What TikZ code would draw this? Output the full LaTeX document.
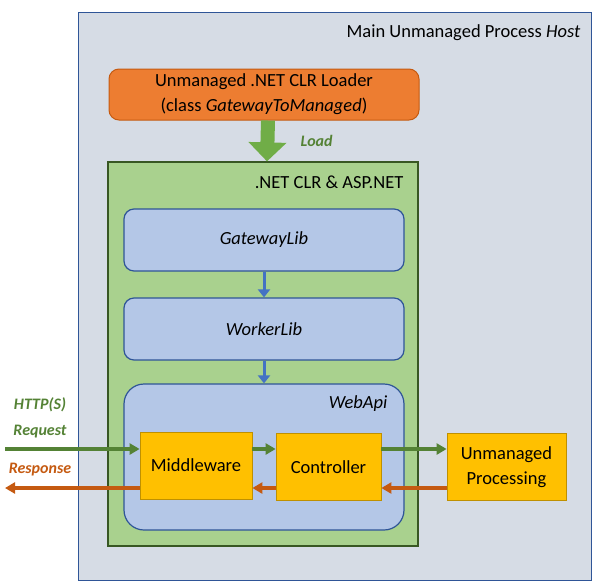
\documentclass[tikz,border=0pt]{standalone}
\usepackage{fontspec}
\setmainfont{Carlito}
\usepackage{xcolor}
\usepackage{tikz}
\usetikzlibrary{positioning,shapes,arrows.meta,calc}

\definecolor{hostfill}{HTML}{D6DCE5}
\definecolor{hostline}{HTML}{2F5597}
\definecolor{loaderfill}{HTML}{ED7D31}
\definecolor{loaderline}{HTML}{C55A11}
\definecolor{clrfill}{HTML}{A9D18E}
\definecolor{clrline}{HTML}{385723}
\definecolor{libfill}{HTML}{B4C7E7}
\definecolor{libline}{HTML}{2F5597}
\definecolor{procfill}{HTML}{FFC000}
\definecolor{procline}{HTML}{BF9000}
\definecolor{reqgreen}{HTML}{548235}
\definecolor{resorange}{HTML}{C55A11}
\definecolor{loadgreen}{HTML}{70AD47}
\definecolor{libblue}{HTML}{4472C4}

\tikzset{
    libbox/.style={draw=libline, line width=1.2pt, fill=libfill, rounded corners=10pt,
        minimum width=280pt, minimum height=62pt},
    procbox/.style={draw=procline, line width=0.8pt, fill=procfill, align=center,
        minimum height=67pt},
    boxtitle/.style={inner sep=0pt, anchor=east},
    sidelabel/.style={inner sep=0pt, font=\fontsize{16}{19}\selectfont\bfseries\itshape},
    reqarrow/.style={draw=reqgreen, line width=3.5pt, -{Triangle[length=10pt,width=11pt]}},
    resarrow/.style={draw=resorange, line width=3.5pt, -{Triangle[length=10pt,width=11pt]}},
    libarrow/.style={draw=libblue, line width=3pt, -{Triangle[length=8pt,width=12pt]}},
    loadarrow/.style={draw=loadgreen, line width=14pt, -{Triangle[length=19pt,width=37pt]}}
}

\begin{document}
\begin{tikzpicture}[x=1pt, y=-1pt, font=\fontsize{18.5}{25}\selectfont]
    \useasboundingbox (0,0) rectangle (598,587);

    % outer process
    \node[draw=hostline, line width=1pt, fill=hostfill, minimum width=513pt, minimum height=568pt]
        (host) at (334.5,296) {};
    \node[boxtitle] (hosttitle) at ([xshift=-11pt, yshift=-21pt]host.north east)
        {Main Unmanaged Process \textit{Host}};

    % loader
    \node[draw=loaderline, line width=1pt, fill=loaderfill, rounded corners=10pt, align=center,
        minimum width=310pt, minimum height=51pt] (loader) at (264,94.5)
        {Unmanaged .NET CLR Loader\\(class \textit{GatewayToManaged})};

    % managed runtime
    \node[draw=clrline, line width=1.2pt, fill=clrfill, minimum width=310pt, minimum height=384pt]
        (clr) at (263,354) {};
    \node[boxtitle] (clrtitle) at ([xshift=-15pt, yshift=-21pt]clr.north east) {.NET CLR \& ASP.NET};

    \node[libbox] (gateway) at (264,240) {\textit{GatewayLib}};
    \node[libbox] (worker) at (264,329) {\textit{WorkerLib}};
    \node[libbox, rounded corners=20pt, minimum height=146pt] (webapi) at (264,457) {};
    \node[boxtitle] (webapititle) at ([xshift=-17pt, yshift=-20pt]webapi.north east) {\textit{WebApi}};

    \node[procbox, minimum width=112pt] (mw) at (196,465.5) {Middleware};
    \node[procbox, minimum width=105pt] (ctl) at (328.5,467) {Controller};
    \node[procbox, minimum width=119pt] (unm) at (506.5,467) {Unmanaged\\Processing};

    % load
    \draw[loadarrow] ([xshift=4pt]loader.south) -- node[sidelabel, text=reqgreen, anchor=west, xshift=26pt]
        (loadlabel) {Load} ([xshift=4pt]clr.north);

    \draw[libarrow] (gateway) -- (worker);
    \draw[libarrow] (worker) -- (webapi);

    % request / response
    \coordinate (reqin) at (5,449);
    \coordinate (resout) at (5,488);
    \node[sidelabel, text=reqgreen] (httplabel) at (40,405) {HTTP(S)};
    \node[sidelabel, text=reqgreen] (reqlabel) at (40,432) {Request};
    \node[sidelabel, text=resorange] (reslabel) at (40,470) {Response};

    \draw[reqarrow] (reqin) -- (reqin -| mw.west);
    \draw[reqarrow] (mw.east |- reqin) -- (ctl.west |- reqin);
    \draw[reqarrow] (ctl.east |- reqin) -- (unm.west |- reqin);
    \draw[resarrow] (unm.west |- resout) -- (ctl.east |- resout);
    \draw[resarrow] (ctl.west |- resout) -- (mw.east |- resout);
    \draw[resarrow] (mw.west |- resout) -- (resout);
\end{tikzpicture}
\end{document}
